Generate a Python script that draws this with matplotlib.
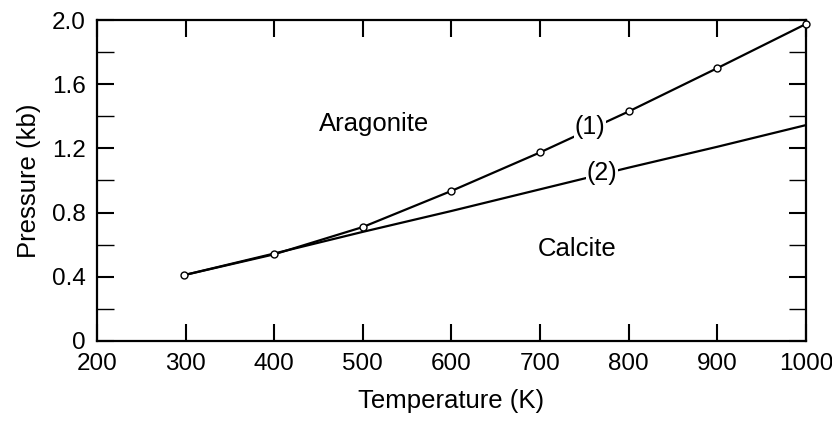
import matplotlib
matplotlib.use("Agg")
import matplotlib.pyplot as plt
from matplotlib.ticker import MultipleLocator

plt.rcParams['font.family'] = ['Liberation Sans', 'DejaVu Sans']

# curve (1): measured points
temp1 = [298, 400, 500, 600, 700, 800, 900, 1000]
press1 = [0.41, 0.54, 0.71, 0.935, 1.175, 1.43, 1.70, 1.975]
# curve (2): straight line
temp2 = [298, 400, 500, 600, 700, 800, 900, 1000]
press2 = [0.41, 0.545, 0.68, 0.81, 0.945, 1.08, 1.21, 1.345]

xticks = [200, 300, 400, 500, 600, 700, 800, 900, 1000]
yticks = [0, 0.4, 0.8, 1.2, 1.6, 2.0]
ytick_labels = ["0", "0.4", "0.8", "1.2", "1.6", "2.0"]

fig = plt.figure(figsize=(8.32, 4.22), dpi=100)
ax = fig.add_axes([0.1166, 0.192, 0.852, 0.7606])

ax.plot(temp2, press2, color='black', lw=1.6)
ax.plot(temp1, press1, color='black', lw=1.6, marker='o', ms=5,
        mfc='white', mec='black', mew=1.0, clip_on=False, zorder=3)

# curve labels sit on the line and break it
box = dict(fc='white', ec='none', pad=0.5)
ax.text(756, 1.335, "(1)", fontsize=18, ha='center', va='center', bbox=box, zorder=4)
ax.text(770, 1.045, "(2)", fontsize=18, ha='center', va='center', bbox=box, zorder=4)
ax.text(513, 1.35, "Aragonite", fontsize=18.5, ha='center', va='center')
ax.text(742, 0.57, "Calcite", fontsize=18.5, ha='center', va='center')

ax.set_xlim(200, 1000)
ax.set_ylim(0, 2.0)
ax.set_xticks(xticks)
ax.set_yticks(yticks)
ax.set_yticklabels(ytick_labels)
ax.yaxis.set_minor_locator(MultipleLocator(0.2))

ax.tick_params(which='both', direction='in', top=True, right=True,
               length=12, width=1.5, labelsize=17.5)
ax.tick_params(axis='x', pad=9)
ax.tick_params(axis='y', pad=8)
ax.tick_params(which='minor', width=1.0)
for s in ax.spines.values():
    s.set_linewidth(1.6)

ax.set_xlabel("Temperature (K)", fontsize=18.5, labelpad=10)
ax.set_ylabel("Pressure (kb)", fontsize=18.5, labelpad=8)

fig.savefig("out.png", dpi=100)
